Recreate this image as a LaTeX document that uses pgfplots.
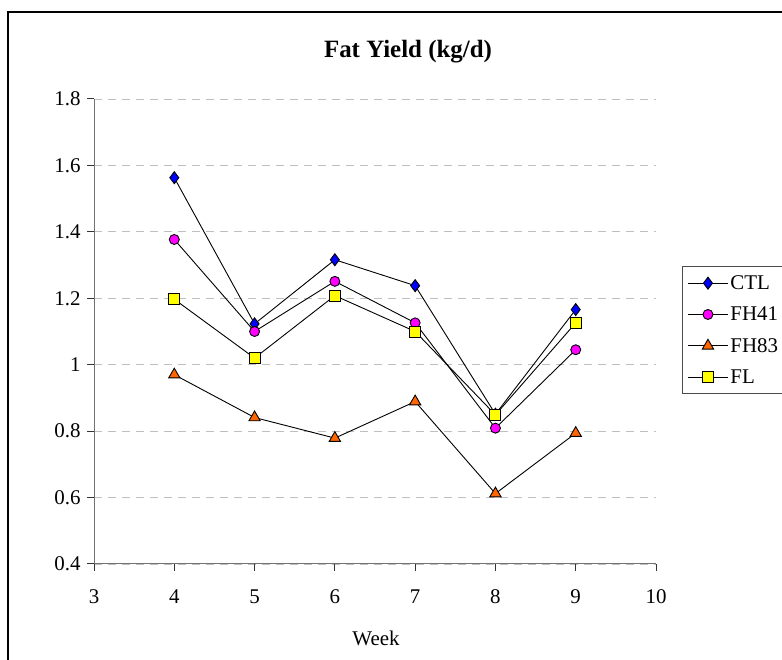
\documentclass[border=0pt]{standalone}
\usepackage{pgfplots}
\pgfplotsset{compat=1.18}
\usepackage{fontspec}
\setmainfont{Liberation Serif}
\definecolor{cblue}{HTML}{0000FF}
\definecolor{cmag}{HTML}{FF00FF}
\definecolor{corange}{HTML}{FF6600}
\definecolor{cyellow}{HTML}{FFFF00}
\begin{document}
\begin{tikzpicture}[x=1bp,y=1bp]
\useasboundingbox (0,0) rectangle (782,660);
\draw[line width=1.3bp] (8,-20) -- (8,648) -- (820,648);
\node[font=\fontsize{25}{30}\selectfont\bfseries, anchor=base] at (408,602) {Fat Yield (kg/d)};
\node[font=\fontsize{21}{25}\selectfont] at (376,22) {Week};
\begin{axis}[
  at={(94bp,96bp)}, anchor=south west,
  scale only axis, width=562bp, height=465bp,
  xmin=3, xmax=10, ymin=0.4, ymax=1.8,
  xtick={3,4,5,6,7,8,9,10},
  ytick={0.4,0.6,0.8,1,1.2,1.4,1.6,1.8},
  yticklabels={0.4,0.6,0.8,1,1.2,1.4,1.6,1.8},
  axis x line*=bottom, axis y line*=left,
  axis line style={black!55, line width=1bp, -},
  tick align=outside, major tick length=7bp,
  tick style={black!80, line width=1bp},
  /pgf/number format/assume math mode=true,
  ticklabel style={font=\fontsize{21}{25}\selectfont},
  xticklabel style={yshift=-15bp},
  yticklabel style={xshift=-3bp},
  ymajorgrids,
  grid style={color=black!25, dash pattern=on 8bp off 6bp, line width=0.8bp},
  legend style={at={(1,0.503)}, anchor=west, xshift=26bp, draw=black!70, line width=1bp,
    font=\fontsize{21}{25}\selectfont, row sep=12bp, inner xsep=5bp, inner ysep=7bp},
  legend cell align=left,
  legend image code/.code={\draw[mark repeat=2,mark phase=2] plot coordinates {(0bp,0bp) (20bp,0bp) (40bp,0bp)};},
  every axis plot/.append style={black, line width=0.9bp, mark options={solid, line width=0.6bp}},
]
\addplot[mark=diamond*, mark size=6bp, mark options={fill=cblue}] coordinates {(4,1.563) (5,1.123) (6,1.316) (7,1.238) (8,0.851) (9,1.166)};
\addlegendentry{CTL}
\addplot[mark=*, mark size=5bp, mark options={fill=cmag}] coordinates {(4,1.377) (5,1.100) (6,1.251) (7,1.126) (8,0.809) (9,1.045)};
\addlegendentry{FH41}
\addplot[mark=triangle*, mark size=6.5bp, mark options={fill=corange}] coordinates {(4,0.970) (5,0.841) (6,0.779) (7,0.889) (8,0.612) (9,0.794)};
\addlegendentry{FH83}
\addplot[mark=square*, mark size=5.5bp, mark options={fill=cyellow}] coordinates {(4,1.197) (5,1.020) (6,1.208) (7,1.100) (8,0.849) (9,1.126)};
\addlegendentry{FL}
\end{axis}
\end{tikzpicture}
\end{document}
